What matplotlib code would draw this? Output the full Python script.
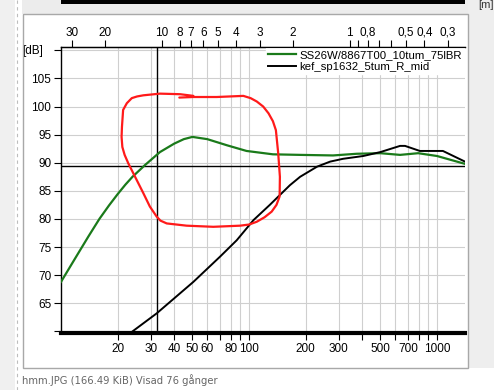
import matplotlib
matplotlib.use("Agg")
import matplotlib.pyplot as plt
from matplotlib.patches import Rectangle
from matplotlib.lines import Line2D

plt.rcParams['font.family'] = ['Liberation Sans', 'DejaVu Sans']

# frequency response data (Hz, dB)
green_freq = [10, 12, 14, 16, 18, 20, 22, 24, 28, 33.6, 40, 45, 50, 60, 76.5, 97, 134,
              187, 280, 375, 500, 636, 794, 1000, 1409]
green_db = [68.8, 73.2, 76.9, 80.0, 82.4, 84.4, 86.1, 87.5, 89.6, 91.9, 93.4, 94.2,
            94.6, 94.2, 93.1, 92.1, 91.5, 91.4, 91.3, 91.6, 91.7, 91.4, 91.7, 91.2, 89.8]

black_freq = [23.6, 32.3, 50.6, 70.2, 86, 105.7, 129, 165, 187, 230, 270, 316,
              405, 500, 636, 676, 810, 1075, 1409]
black_db = [59.8, 63.2, 68.8, 73.3, 76.2, 79.8, 82.5, 86.0, 87.5, 89.3, 90.2, 90.7,
            91.2, 91.9, 93.0, 93.0, 92.1, 92.1, 90.2]

green_name = "SS26W/8867T00_10tum_75lBR"
black_name = "kef_sp1632_5tum_R_mid"

# cursor lines
cursor_freq = 32.4
cursor_db = 89.4

# hand drawn red circle (Hz, dB)
red_freq = [42.6, 50.6, 67.3, 93.3, 102, 110, 119, 127, 134, 139, 143, 146, 145.5, 140,
            132, 121, 110, 100, 89.6, 64.6, 46.6, 36.5, 33.8, 32.3, 29.7, 27.4, 25.3,
            22.8, 21.8, 21.2, 21.0, 21.1, 21.4, 22.4, 23.8, 25.4, 27.4, 33.6, 43.0, 50.6]
red_db = [101.6, 101.7, 101.7, 101.9, 101.5, 100.9, 100.0, 98.8, 97.4, 95.8, 91.7, 87.5,
          84.0, 82.5, 81.3, 80.3, 79.5, 79.0, 78.8, 78.6, 78.8, 79.2, 79.7, 80.4, 82.2,
          84.6, 86.9, 89.9, 91.4, 92.8, 94.6, 96.4, 99.4, 100.6, 101.5, 101.8, 102.0,
          102.3, 102.2, 101.9]

freq_major = [20, 30, 40, 50, 60, 80, 100, 200, 300, 500, 700, 1000]
freq_minor = [70, 90, 400, 600, 800, 900]
db_ticks = [65, 70, 75, 80, 85, 90, 95, 100, 105]

wave_major = [30, 20, 10, 8, 7, 6, 5, 4, 3, 2, 1, 0.8, 0.5, 0.4, 0.3]
wave_minor = [0.9, 0.7, 0.6]
sound_speed = 343.0

W, H = 494, 390


def fx(x):
    return x / W


def fy(y):
    return 1 - y / H


fig = plt.figure(figsize=(W / 100, H / 100), dpi=100, facecolor='white')

# forum page decoration around the screenshot
fig.add_artist(Rectangle((0, 0), fx(15), 1, color='#f0f0f0', lw=0))
fig.add_artist(Line2D([fx(16.5), fx(16.5)], [0, 1], color='#bdbdbd', lw=0.8, ls=(0, (3, 3))))
fig.add_artist(Rectangle((fx(22), fy(14)), fx(448), fy(0) - fy(14), color='#ececec', lw=0))
fig.add_artist(Rectangle((fx(61), fy(3.5)), fx(404), fy(0) - fy(3.5), color='black', lw=0))
fig.add_artist(Rectangle((fx(468), fy(368)), fx(26), fy(0) - fy(368), color='#eeeeee', lw=0))
fig.add_artist(Rectangle((fx(22.5), fy(368)), fx(445), fy(14) - fy(368), fill=False,
                         edgecolor='#a8a8a8', lw=1))
fig.text(fx(478), fy(5), "[m]", fontsize=8, va='center', ha='left', color='#333333')
fig.text(fx(22), fy(380), "hmm.JPG (166.49 KiB) Visad 76 gånger", fontsize=7.2,
         color='#666666', va='center', ha='left', family='DejaVu Sans')

ax = fig.add_axes([fx(61), fy(333), fx(404), fy(47) - fy(333)])
ax.set_xscale('log')
ax.set_xlim(10, 1409)
ax.set_ylim(59.7, 110.6)

ax.plot(green_freq, green_db, color='#1a7a1a', lw=1.6, label=green_name, zorder=4)
ax.plot(black_freq, black_db, color='black', lw=1.4, label=black_name, zorder=4)
ax.axvline(cursor_freq, color='black', lw=1.0, zorder=3)
ax.axhline(cursor_db, color='black', lw=1.0, zorder=3)
ax.plot(red_freq, red_db, color='#ff1a1a', lw=1.6, zorder=6, solid_capstyle='round',
        solid_joinstyle='round')

ax.set_xticks(freq_major)
ax.set_xticklabels([str(f) for f in freq_major])
ax.set_xticks(freq_minor, minor=True)
ax.set_xticklabels([], minor=True)
ax.set_yticks(db_ticks)
ax.set_yticks([60, 110], minor=True)
ax.grid(True, which='both', color='#cfcfcf', lw=0.8, zorder=0)

ax.spines['right'].set_visible(False)
ax.spines['bottom'].set_linewidth(3)
ax.spines['left'].set_linewidth(1)
ax.spines['top'].set_linewidth(1)
ax.tick_params(axis='both', which='both', labelsize=8.5, length=5, width=0.8,
               direction='out', pad=2)
ax.text(-0.095, 0.985, "[dB]", transform=ax.transAxes, fontsize=8.5, va='center')

top = ax.twiny()
top.set_xscale('log')
top.set_xlim(ax.get_xlim())
top.set_xticks([sound_speed / w for w in wave_major])
top.set_xticklabels([('%g' % w).replace('.', ',') for w in wave_major])
top.set_xticks([sound_speed / w for w in wave_minor], minor=True)
top.set_xticklabels([], minor=True)
top.tick_params(axis='x', which='both', labelsize=8.5, length=5, width=0.8, pad=1)
for side in ['right', 'bottom', 'left']:
    top.spines[side].set_visible(False)

leg = ax.legend(loc='upper right', fontsize=8.2, frameon=True, fancybox=False,
                edgecolor='white', framealpha=1, borderaxespad=0.1,
                handlelength=2.4, handletextpad=0.3, labelspacing=0.1,
                borderpad=0.2)
leg.set_zorder(5)

fig.savefig("out.png", dpi=100, facecolor=fig.get_facecolor())
